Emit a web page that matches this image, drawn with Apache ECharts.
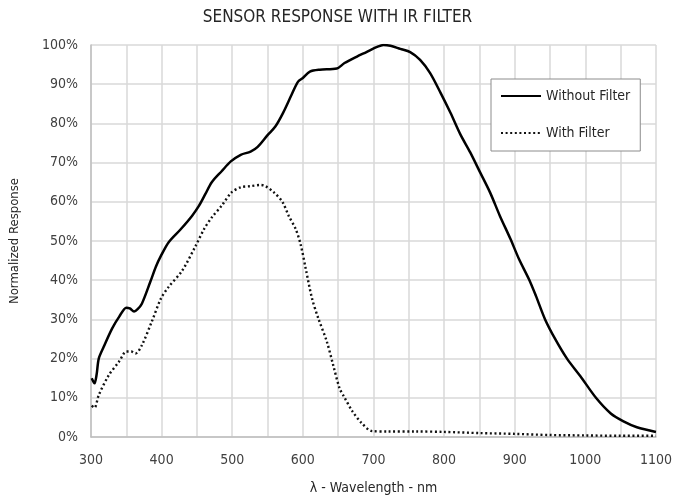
<!DOCTYPE html>
<html>
<head>
<meta charset="utf-8">
<script src="https://cdn.jsdelivr.net/npm/echarts@6/dist/echarts.min.js"></script>
<style>html,body{margin:0;padding:0;background:#fff}#c{width:675px;height:500px}</style>
</head>
<body>
<div id="c"></div>
<script>
const titleText = 'SENSOR RESPONSE WITH IR FILTER';
const seriesNames = ['Without Filter', 'With Filter'];
const xTickValues = [300, 400, 500, 600, 700, 800, 900, 1000, 1100];

const noFilterNm = [301,305,308,311,318,330,340,350,355,361,366,372,384,392,399,410,427,443,453,462,471,485,498,512,526,536,550,561,572,584,593,600,610,624,648,659,676,690,705,714,724,738,752,766,780,795,809,823,837,851,865,879,894,906,920,930,943,957,974,993,1015,1036,1054,1073,1100];
const noFilterVal = [15,13.7,16,20,23,27.7,30.7,33,32.8,32,32.6,34,39.6,43.5,46.2,49.7,53,56.4,59,62,65,67.8,70.3,72,72.8,74,77,79.2,82.7,87.3,90.6,91.6,93.2,93.7,94,95.4,97,98.2,99.5,100,99.8,99,98.2,96.2,92.9,87.8,82.7,77.2,72.6,67.5,62.4,56.4,50.5,45.4,40.3,36,30,25.1,20,15.5,10,6,4,2.5,1.3];

const filterNm = [301,305,311,325,340,350,357,363,372,386,399,410,429,448,460,471,485,499,512,526,540,547,559,571,580,590,597,604,613,622,634,643,652,658,670,683,698,720,760,800,850,900,950,1000,1050,1100];
const filterVal = [8,7.5,10.7,15.7,19.3,21.8,21.8,21.3,23.4,29.4,35.3,38.3,42.4,48.7,53,56,59,62.4,63.7,64,64.3,64,62.4,60,56.4,53,49,43,35.3,30.2,24.3,18.3,12.4,10.4,6.6,3.6,1.5,1.4,1.4,1.3,1.0,0.8,0.5,0.4,0.3,0.3];

const FONT = '"DejaVu Sans Condensed", "DejaVu Sans", sans-serif';
const chart = echarts.init(document.getElementById('c'), null, {renderer: 'canvas'});
const pairs = (xs, ys) => xs.map((x, i) => [x, ys[i]]);

chart.setOption({
  animation: false,
  backgroundColor: '#ffffff',
  title: {
    text: titleText, left: 'center', top: 4,
    textStyle: {fontFamily: FONT, fontSize: 17, fontWeight: 'normal', color: '#262626'}
  },
  legend: {
    orient: 'vertical', left: 491, top: 79,
    padding: [10, 10, 11, 9],
    itemWidth: 40, itemHeight: 14, itemGap: 23,
    backgroundColor: '#fff', borderColor: '#8c8c8c', borderWidth: 1,
    itemStyle: {opacity: 0},
    textStyle: {fontFamily: FONT, fontSize: 14, color: '#262626'},
    data: seriesNames
  },
  grid: {left: 90, right: 19, top: 45, bottom: 61},
  xAxis: {
    type: 'value', min: 300, max: 1100, interval: 50,
    name: 'λ - Wavelength - nm', nameLocation: 'middle', nameGap: 44,
    nameTextStyle: {fontFamily: FONT, fontSize: 14, color: '#262626'},
    axisLine: {lineStyle: {color: '#bfbfbf', width: 1.5}},
    axisTick: {show: false},
    axisLabel: {
      margin: 16, fontFamily: FONT, fontSize: 14, color: '#404040',
      formatter: v => xTickValues.includes(v) ? String(v) : ''
    },
    splitLine: {show: true, lineStyle: {color: '#d9d9d9', width: 1.5}}
  },
  yAxis: {
    type: 'value', min: 0, max: 100, interval: 10,
    name: 'Normalized Response', nameLocation: 'middle', nameGap: 70,
    nameTextStyle: {fontFamily: FONT, fontSize: 13, color: '#262626'},
    axisLine: {show: true, lineStyle: {color: '#bfbfbf', width: 1.5}},
    axisTick: {show: false},
    axisLabel: {margin: 13, fontFamily: FONT, fontSize: 14, color: '#404040', formatter: '{value}%'},
    splitLine: {show: true, lineStyle: {color: '#d9d9d9', width: 1.5}}
  },
  series: [
    {
      name: seriesNames[0], type: 'line', smooth: 0.3, symbol: 'none',
      data: pairs(noFilterNm, noFilterVal),
      lineStyle: {color: '#000', width: 2.5},
      itemStyle: {color: '#000'}
    },
    {
      name: seriesNames[1], type: 'line', smooth: 0.3, symbol: 'none',
      data: pairs(filterNm, filterVal),
      lineStyle: {color: '#111', width: 2.4, type: [2, 2.6]},
      itemStyle: {color: '#111'}
    }
  ]
});
</script>
</body>
</html>
